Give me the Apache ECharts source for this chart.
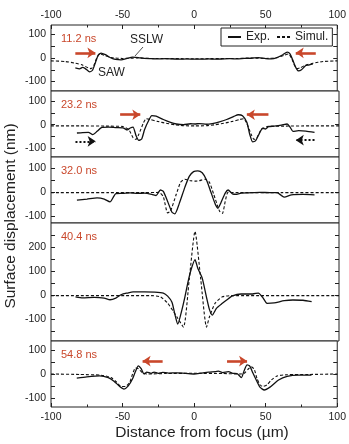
<!DOCTYPE html>
<html>
<head>
<meta charset="utf-8">
<script src="https://cdn.jsdelivr.net/npm/echarts@6/dist/echarts.min.js"></script>
<style>
  html, body { margin: 0; padding: 0; background: #fff; }
  #chart { width: 349px; height: 444px; }
</style>
</head>
<body>
<div id="chart"></div>
<script>
// --- data: [distance (um), displacement (nm)] ---
const panelTimes = ['11.2 ns', '23.2 ns', '32.0 ns', '40.4 ns', '54.8 ns'];
const yRanges = [[-140, 140], [-136, 142], [-130, 146], [-192, 300], [-138, 138]];
const yLabelValues = [[-100, 0, 100], [-100, 0, 100], [-100, 0, 100], [-100, 0, 100, 200], [-100, 0, 100]];
const yTickValues = [[-100, -50, 0, 50, 100], [-100, -50, 0, 50, 100], [-100, -50, 0, 50, 100],
  [-150, -100, -50, 0, 50, 100, 150, 200, 250], [-100, -50, 0, 50, 100]];

const exp11 = [[-83,-42],[-80,-46],[-78,-40],[-76,-45],[-73,-59],[-71,-52],[-69,-20],[-67,12],[-65,21],[-62,14],
  [-58,0],[-55,-6],[-51,-8],[-47,-2],[-43,4],[-39,2],[-35,-2],[-30,-3],[-25,-4],[-20,-3],[-15,-4],[-10,-5],[-5,-4],
  [0,-5],[5,-5],[10,-4],[15,-5],[20,-4],[25,-3],[30,-4],[35,-2],[40,-1],[45,2],[50,-3],[54,-4],[58,2],[62,14],
  [65,25],[67,18],[69,-10],[71,-40],[73,-55],[75,-50],[78,-32],[80,-30],[83,-25]];
const sim11 = [[-100,-12],[-90,-15],[-83,-22],[-78,-30],[-74,-42],[-72,-45],[-70,-30],[-68,0],[-66,17],[-63,12],
  [-58,2],[-50,-2],[-40,0],[-30,-2],[0,-3],[30,-2],[40,0],[50,-2],[58,2],[63,12],[66,17],[68,0],[70,-30],[72,-45],
  [74,-42],[78,-30],[83,-22],[90,-15],[100,-12]];

const exp23 = [[-82,-35],[-78,-33],[-74,-32],[-71,-42],[-68,-28],[-65,-12],[-60,-10],[-55,-12],[-50,-13],[-47,-22],
  [-45,-14],[-43,-10],[-41,-45],[-39,-66],[-37,-60],[-35,-20],[-32,20],[-30,38],[-27,36],[-22,22],[-17,10],[-13,3],
  [-8,0],[-3,4],[0,3],[3,5],[8,2],[12,5],[17,12],[22,22],[27,35],[30,42],[33,38],[36,10],[38,-40],[40,-72],[42,-68],
  [44,-45],[47,-15],[49,-18],[51,-8],[55,-6],[60,-2],[64,3],[66,-10],[68,-28],[72,-25],[77,-27],[83,-32]];
const sim23 = [[-100,-5],[-80,-5],[-60,-6],[-50,-8],[-46,-20],[-43,-55],[-41,-62],[-39,-40],[-36,5],[-34,25],
  [-31,22],[-26,14],[-20,6],[-14,0],[-8,-4],[0,-5],[8,-4],[14,0],[20,6],[26,14],[31,22],[34,25],[36,5],[39,-40],
  [41,-62],[43,-55],[46,-20],[50,-8],[60,-6],[80,-5],[100,-5]];

const exp32 = [[-82,-34],[-75,-30],[-68,-25],[-63,-30],[-59,-42],[-57,-25],[-55,-7],[-50,-6],[-45,-4],[-40,-6],
  [-35,-5],[-30,-10],[-27,-15],[-24,8],[-22,2],[-19,-40],[-16,-85],[-14,-92],[-11,-50],[-7,20],[-4,65],[-1,85],
  [2,88],[5,80],[8,50],[11,0],[14,-50],[16,-68],[18,-45],[21,-5],[23,8],[26,-8],[29,-10],[32,-5],[37,-4],[45,-2],
  [52,-3],[57,-3],[60,-15],[62,-22],[67,-12],[75,-10],[83,-12]];
const sim32 = [[-100,-3],[-60,-3],[-35,-3],[-25,-2],[-22,-20],[-19,-88],[-17,-80],[-13,-10],[-10,40],[-7,53],
  [-3,47],[0,45],[3,47],[7,53],[10,40],[13,-10],[17,-80],[19,-90],[21,-40],[23,-2],[30,-3],[60,-3],[100,-3]];

const exp40 = [[-83,-8],[-78,-12],[-70,-10],[-63,-13],[-59,-20],[-55,-13],[-51,2],[-47,8],[-43,13],[-35,13],
  [-28,12],[-22,8],[-19,-5],[-16,-30],[-14,-80],[-12,-122],[-9,-60],[-7,-8],[-5,50],[-3,100],[0,147],[2,110],
  [5,70],[8,-10],[10,-60],[12,-84],[15,-55],[19,-35],[22,-21],[26,-4],[32,4],[40,4],[44,8],[47,-10],[50,-35],
  [55,-33],[62,-24],[68,-21],[75,-22],[81,-28]];
const sim40 = [[-100,-3],[-30,-3],[-24,-8],[-19,-34],[-12.5,-92],[-8,-134],[-4,65],[0,265],[4,65],[8,-134],
  [10,-92],[14,-34],[19,-8],[25,-3],[100,-3]];

const exp54 = [[-82,-17],[-75,-12],[-66,-8],[-60,-15],[-56,-30],[-52,-52],[-49,-63],[-46,-50],[-43,-20],[-41,10],
  [-39,34],[-37,22],[-35,0],[-33,8],[-30,3],[-28,8],[-25,3],[-22,7],[-18,4],[-12,5],[-6,3],[0,0],[5,4],[10,8],
  [15,10],[17,12],[20,6],[24,10],[27,3],[30,2],[33,-15],[35,15],[37,38],[39,32],[41,5],[43,-20],[46,-55],[49,-67],
  [53,-55],[59,-25],[65,-10],[73,-5],[82,-5]];
const sim54 = [[-100,0],[-80,-2],[-65,-5],[-58,-15],[-54,-35],[-51,-52],[-48,-52],[-45,-35],[-43,0],[-41,25],
  [-39,22],[-36,5],[-33,0],[-20,2],[0,3],[20,2],[32,0],[35,3],[38,22],[40,30],[42,20],[44,-20],[46,-45],[48,-52],
  [51,-45],[54,-25],[58,-8],[65,-3],[80,-2],[100,0]];

const expSets = [exp11, exp23, exp32, exp40, exp54];
const simSets = [sim11, sim23, sim32, sim40, sim54];

// arrows: [panel, [x1,y1], [x2,y2], kind]
const arrows = [
  [0, [-83, 22], [-69, 22], 'red'], [0, [85, 22], [71, 22], 'red'],
  [1, [-52, 42], [-38, 42], 'red'], [1, [51, 42], [36, 42], 'red'],
  [1, [-83, -70], [-69, -70], 'dot'], [1, [83, -65], [70, -65], 'dot'],
  [4, [-22, 54], [-36, 54], 'red'], [4, [23, 54], [37, 54], 'red']
];

const FONT = '"Liberation Sans", Arial, Helvetica, sans-serif';
const RED = '#c9472b';
const INK = '#222';
const tops = [25, 91, 157, 223, 341];
const heights = [66, 66, 66, 118, 66];

const chart = echarts.init(document.getElementById('chart'), null, { renderer: 'canvas' });

const grids = [], xAxes = [], yAxes = [], series = [];
for (let i = 0; i < 5; i++) {
  grids.push({ left: 51, right: 10, top: tops[i], height: heights[i], show: true,
    borderColor: INK, borderWidth: 1, backgroundColor: '#fff' });
  const last = i === 4;
  xAxes.push({ type: 'value', gridIndex: i, min: -100, max: 100, interval: 50, position: 'bottom',
    axisLine: { show: false, onZero: false }, splitLine: { show: false },
    axisTick: { show: last, inside: true, length: 4, lineStyle: { color: INK } },
    minorTick: { show: last, splitNumber: 2, length: 2.5, lineStyle: { color: INK } },
    axisLabel: { show: last, color: INK, fontSize: 10.5, fontFamily: FONT, margin: 5 } });
  yAxes.push({ type: 'value', gridIndex: i, min: yRanges[i][0], max: yRanges[i][1], position: 'left',
    axisLine: { show: false, onZero: false }, splitLine: { show: false },
    axisTick: { show: true, inside: true, length: 4, customValues: yTickValues[i], lineStyle: { color: INK } },
    axisLabel: { show: true, customValues: yLabelValues[i], color: INK, fontSize: 10.5, fontFamily: FONT, margin: 5 } });
  yAxes.push({ type: 'value', gridIndex: i, min: yRanges[i][0], max: yRanges[i][1], position: 'right',
    axisLine: { show: false, onZero: false }, splitLine: { show: false },
    axisTick: { show: true, inside: true, length: 4, customValues: yTickValues[i], lineStyle: { color: INK } },
    axisLabel: { show: false } });

  const marks = arrows.filter(a => a[0] === i).map(a => [
    { coord: a[1], lineStyle: a[3] === 'red'
      ? { color: RED, width: 2.6, type: 'solid' }
      : { color: '#111', width: 1.8, type: [2, 2] } },
    { coord: a[2] }
  ]);

  series.push({ name: 'Exp.', type: 'line', xAxisIndex: i, yAxisIndex: 2 * i, data: expSets[i],
    symbol: 'none', smooth: 0.2, z: 3,
    lineStyle: { color: '#111', width: 1.3, type: 'solid' }, itemStyle: { color: '#111' },
    markLine: marks.length ? { silent: true, symbol: ['none', 'arrow'], symbolSize: 8, animation: false,
      label: { show: false }, data: marks } : undefined });
  series.push({ name: 'Simul.', type: 'line', xAxisIndex: i, yAxisIndex: 2 * i, data: simSets[i],
    symbol: 'none', smooth: 0.2, z: 2,
    lineStyle: { color: '#111', width: 1.1, type: [3, 2] }, itemStyle: { color: '#111' } });
}
// top axis labels of the first panel
xAxes.push({ type: 'value', gridIndex: 0, min: -100, max: 100, interval: 50, position: 'top',
  axisLine: { show: false, onZero: false }, splitLine: { show: false },
  axisTick: { show: true, inside: true, length: 4, lineStyle: { color: INK } },
  minorTick: { show: true, splitNumber: 2, length: 2.5, lineStyle: { color: INK } },
  axisLabel: { color: INK, fontSize: 10.5, fontFamily: FONT, margin: 4 } });

const graphic = panelTimes.map((t, i) => ({
  type: 'text', x: 61, y: tops[i] + 14,
  style: { text: t, fill: RED, font: '11px ' + FONT, verticalAlign: 'middle' }
}));
graphic.push(
  { type: 'text', x: 130, y: 40, style: { text: 'SSLW', fill: INK, font: '12px ' + FONT, verticalAlign: 'middle' } },
  { type: 'line', shape: { x1: 143, y1: 47, x2: 135, y2: 56 }, style: { stroke: INK, lineWidth: 0.8 } },
  { type: 'text', x: 98, y: 73, style: { text: 'SAW', fill: INK, font: '12px ' + FONT, verticalAlign: 'middle' } },
  { type: 'text', x: 11, y: 216, rotation: Math.PI / 2,
    style: { text: 'Surface displacement (nm)', fill: INK, font: '15.5px ' + FONT, align: 'center', verticalAlign: 'middle' } },
  { type: 'text', x: 202, y: 433,
    style: { text: 'Distance from focus (µm)', fill: INK, font: '15.5px ' + FONT, align: 'center', verticalAlign: 'middle' } }
);

chart.setOption({
  backgroundColor: '#fff',
  animation: false,
  grid: grids,
  xAxis: xAxes,
  yAxis: yAxes,
  series: series,
  legend: {
    left: 221, top: 28, orient: 'horizontal',
    padding: [3, 4, 3, 6], itemGap: 6, itemWidth: 13, itemHeight: 12,
    borderColor: INK, borderWidth: 1, backgroundColor: '#fff',
    itemStyle: { opacity: 0 },
    data: ['Exp.', 'Simul.'],
    textStyle: { color: INK, fontSize: 12, fontFamily: FONT }
  },
  graphic: graphic
});
</script>
</body>
</html>
